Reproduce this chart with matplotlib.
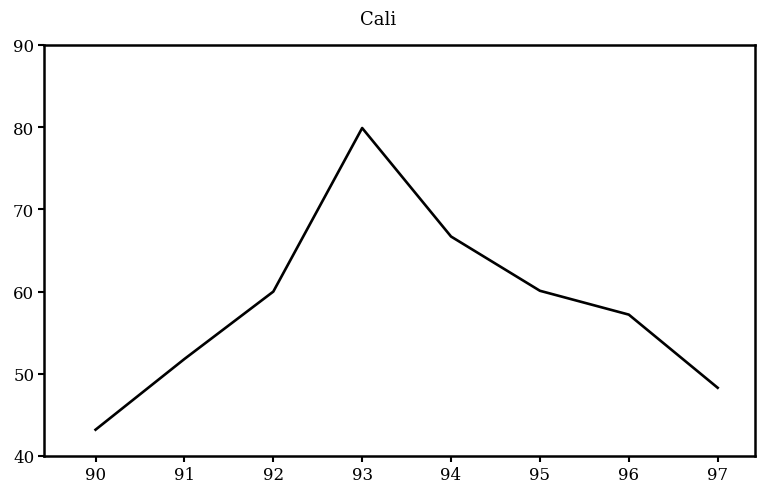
import matplotlib
matplotlib.use("Agg")
import matplotlib.pyplot as plt

years = [90, 91, 92, 93, 94, 95, 96, 97]
values = [43.2, 51.8, 60.0, 79.9, 66.7, 60.1, 57.2, 48.3]
yticks = [40, 50, 60, 70, 80, 90]
title = "Cali"

plt.rcParams['font.family'] = ['DejaVu Serif']

fig = plt.figure(figsize=(7.62, 4.85), dpi=100)
ax = fig.add_axes([44/762, 28/485, 711/762, 411/485])
ax.plot(years, values, color='black', linewidth=1.9)
ax.set_xlim(89.42, 97.42)
ax.set_ylim(40, 90)
ax.set_xticks(years)
ax.set_xticklabels([str(y) for y in years])
ax.set_yticks(yticks)
for s in ax.spines.values():
    s.set_linewidth(1.8)
ax.tick_params(direction='out', length=4, width=1.5, labelsize=12, pad=3)
ax.set_title(title, fontsize=13, x=0.47, pad=15)
fig.savefig("out.png", dpi=100)
